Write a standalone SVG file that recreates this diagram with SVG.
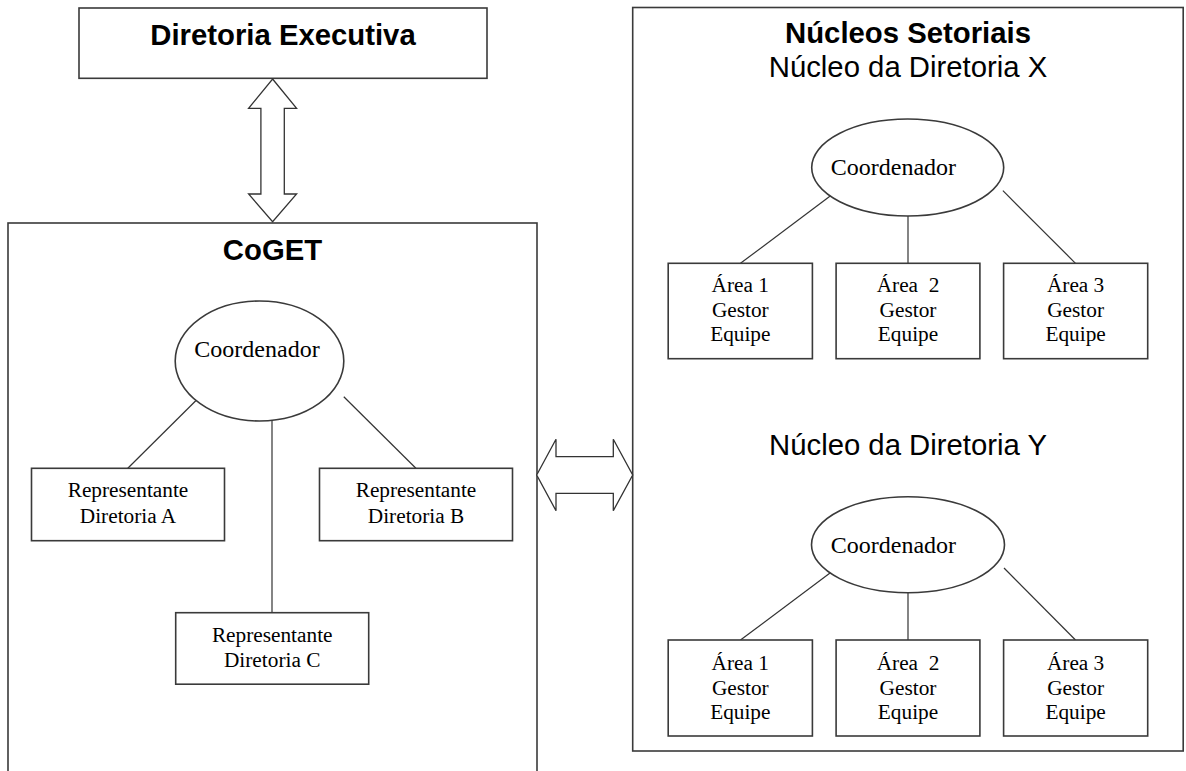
<svg xmlns="http://www.w3.org/2000/svg" width="1186" height="771" viewBox="0 0 1186 771">
  <style>
    .box { fill: #fff; stroke: #3a3a3a; stroke-width: 1.6; }
    .frame { fill: none; stroke: #3a3a3a; stroke-width: 1.6; }
    .link { fill: none; stroke: #333; stroke-width: 1.2; }
    .arrow { fill: #fff; stroke: #333; stroke-width: 1.3; stroke-linejoin: miter; }
    .title { font-family: "Liberation Sans", Arial, sans-serif; font-weight: bold; font-size: 29.3px; fill: #000; text-anchor: middle; }
    .subtitle { font-family: "Liberation Sans", Arial, sans-serif; font-size: 29.3px; fill: #000; text-anchor: middle; }
    .coord { font-family: "Liberation Serif", "Times New Roman", serif; font-size: 24px; fill: #000; text-anchor: middle; }
    .label { font-family: "Liberation Serif", "Times New Roman", serif; font-size: 21.3px; fill: #000; text-anchor: middle; }
  </style>

  <!-- Executive board -->
  <g id="diretoria-executiva">
    <rect class="box" x="79" y="8" width="408" height="70.3"/>
    <text class="title" x="283" y="45">Diretoria Executiva</text>
  </g>

  <!-- CoGET committee frame -->
  <g id="coget">
    <rect class="frame" x="8" y="223" width="529" height="570"/>
    <text class="title" x="272.5" y="260">CoGET</text>
  </g>

  <!-- Sector nuclei frame -->
  <g id="nucleos-setoriais">
    <rect class="frame" x="632.7" y="7.5" width="550.5" height="743.5"/>
    <text class="title" x="908" y="43.3">Núcleos Setoriais</text>
    <text class="subtitle" x="908" y="77.3">Núcleo da Diretoria X</text>
    <text class="subtitle" x="908" y="455">Núcleo da Diretoria Y</text>
  </g>

  <!-- Connectors -->
  <g id="connectors">
    <!-- two-way block arrows -->
    <polygon class="arrow" points="272.6,79 296.6,108.3 284.3,108.3 284.3,194 296.6,194 272.6,221.7 248.6,194 260.9,194 260.9,108.3 248.6,108.3"/>
    <polygon class="arrow" points="536.7,475 556,439.3 556,456.7 613.3,456.7 613.3,439.3 632.7,475 613.3,510.7 613.3,493.3 556,493.3 556,510.7"/>
    <!-- CoGET tree -->
    <line class="link" x1="199.8" y1="396.7" x2="127.8" y2="468.3"/>
    <line class="link" x1="343.8" y1="396.7" x2="415.9" y2="468.3"/>
    <line class="link" x1="272" y1="421" x2="272" y2="612.7"/>
    <!-- Núcleo X tree -->
    <line class="link" x1="837.2" y1="190.7" x2="740.5" y2="263.3"/>
    <line class="link" x1="1002.9" y1="190.7" x2="1075.5" y2="263.3"/>
    <line class="link" x1="908" y1="216" x2="908" y2="263.3"/>
    <!-- Núcleo Y tree -->
    <line class="link" x1="836.7" y1="568" x2="740.5" y2="640"/>
    <line class="link" x1="1004" y1="568" x2="1075.5" y2="640"/>
    <line class="link" x1="908" y1="592.7" x2="908" y2="640"/>
  </g>

  <!-- CoGET members -->
  <g id="coget-coordenador">
    <ellipse class="box" cx="259.5" cy="361" rx="84.3" ry="60"/>
    <text class="coord" x="257" y="356.7">Coordenador</text>
  </g>
  <g id="rep-a">
    <rect class="box" x="31.5" y="468.3" width="193" height="72.4"/>
    <text class="label" x="128" y="497">Representante</text>
    <text class="label" x="128" y="523">Diretoria A</text>
  </g>
  <g id="rep-b">
    <rect class="box" x="319.5" y="468.3" width="193" height="72.4"/>
    <text class="label" x="416" y="497">Representante</text>
    <text class="label" x="416" y="523">Diretoria B</text>
  </g>
  <g id="rep-c">
    <rect class="box" x="175.7" y="612.7" width="193" height="71.5"/>
    <text class="label" x="272.2" y="641.7">Representante</text>
    <text class="label" x="272.2" y="666.7">Diretoria C</text>
  </g>

  <!-- Núcleo da Diretoria X -->
  <g id="x-coordenador">
    <ellipse class="box" cx="907.7" cy="167.5" rx="96" ry="48.5"/>
    <text class="coord" x="893.4" y="175">Coordenador</text>
  </g>
  <g id="x-area-1">
    <rect class="box" x="668.2" y="263.3" width="144.2" height="95.4"/>
    <text class="label" x="740.3" y="292">Área 1</text>
    <text class="label" x="740.3" y="317">Gestor</text>
    <text class="label" x="740.3" y="341">Equipe</text>
  </g>
  <g id="x-area-2">
    <rect class="box" x="836.1" y="263.3" width="143.8" height="95.4"/>
    <text class="label" x="908" y="292" xml:space="preserve">Área  2</text>
    <text class="label" x="908" y="317">Gestor</text>
    <text class="label" x="908" y="341">Equipe</text>
  </g>
  <g id="x-area-3">
    <rect class="box" x="1003.6" y="263.3" width="144.1" height="95.4"/>
    <text class="label" x="1075.6" y="292">Área 3</text>
    <text class="label" x="1075.6" y="317">Gestor</text>
    <text class="label" x="1075.6" y="341">Equipe</text>
  </g>

  <!-- Núcleo da Diretoria Y -->
  <g id="y-coordenador">
    <ellipse class="box" cx="908" cy="544.7" rx="96.5" ry="48"/>
    <text class="coord" x="893.4" y="552.7">Coordenador</text>
  </g>
  <g id="y-area-1">
    <rect class="box" x="668.2" y="640" width="144.2" height="96"/>
    <text class="label" x="740.3" y="669.5">Área 1</text>
    <text class="label" x="740.3" y="694.5">Gestor</text>
    <text class="label" x="740.3" y="718.8">Equipe</text>
  </g>
  <g id="y-area-2">
    <rect class="box" x="836.1" y="640" width="143.8" height="96"/>
    <text class="label" x="908" y="669.5" xml:space="preserve">Área  2</text>
    <text class="label" x="908" y="694.5">Gestor</text>
    <text class="label" x="908" y="718.8">Equipe</text>
  </g>
  <g id="y-area-3">
    <rect class="box" x="1003.6" y="640" width="144.1" height="96"/>
    <text class="label" x="1075.6" y="669.5">Área 3</text>
    <text class="label" x="1075.6" y="694.5">Gestor</text>
    <text class="label" x="1075.6" y="718.8">Equipe</text>
  </g>
</svg>
